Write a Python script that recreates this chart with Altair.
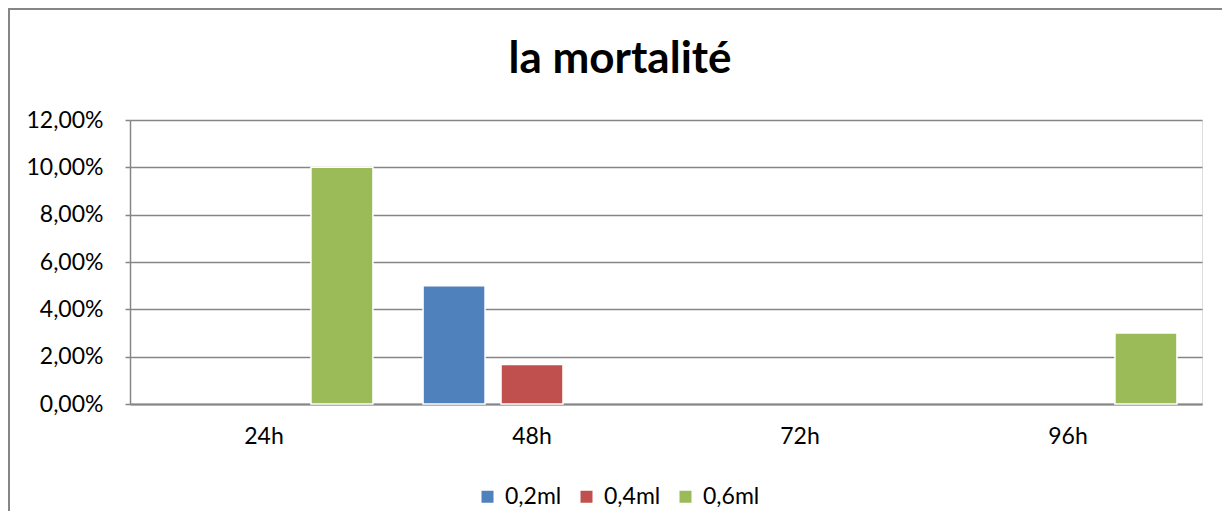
import altair as alt
import pandas as pd

times = ["24h", "48h", "72h", "96h"]
series = ["0,2ml", "0,4ml", "0,6ml"]
colors = ["#4F81BD", "#C0504D", "#9BBB59"]
v_02 = [0.0, 0.05, 0.0, 0.0]
v_04 = [0.0, 0.0167, 0.0, 0.0]
v_06 = [0.10, 0.0, 0.0, 0.03]
y_ticks = [0, 0.02, 0.04, 0.06, 0.08, 0.10, 0.12]

rows = []
for s, vals in zip(series, [v_02, v_04, v_06]):
    for t, v in zip(times, vals):
        rows.append({"temps": t, "dose": s, "value": v})
df = pd.DataFrame(rows)

FONT = "Lato"
W, H = 1072, 284
GRAY = "#868686"

bars = alt.Chart(df).transform_filter("datum.value > 0").mark_bar(
    stroke="white", strokeWidth=1.5
).encode(
    x=alt.X("temps:N", sort=times,
            scale=alt.Scale(domain=times, paddingInner=0.187, paddingOuter=0.0935),
            axis=alt.Axis(title=None, labelAngle=0, labelFont=FONT, labelFontSize=23,
                          labelColor="#000000", labelPadding=21, ticks=False,
                          domainColor=GRAY, domainWidth=2, grid=False)),
    xOffset=alt.XOffset("dose:N", sort=series,
                        scale=alt.Scale(domain=series, paddingInner=0.205, paddingOuter=0)),
    y=alt.Y("value:Q",
            scale=alt.Scale(domain=[0, 0.12], nice=False),
            axis=alt.Axis(title=None, values=y_ticks,
                          labelExpr="replace(format(datum.value, '.2%'), '.', ',')",
                          labelFont=FONT, labelFontSize=23, labelColor="#000000",
                          labelPadding=22, tickSize=5, tickColor=GRAY, tickWidth=1.5,
                          domainColor=GRAY, domainWidth=1.5,
                          grid=True, gridColor=GRAY, gridWidth=1.5)),
    color=alt.Color("dose:N", sort=series,
                    scale=alt.Scale(domain=series, range=colors),
                    legend=alt.Legend(title=None, orient="none", direction="horizontal",
                                      legendX=346, legendY=365,
                                      symbolType="square", symbolSize=144,
                                      symbolStrokeWidth=0,
                                      labelFont=FONT, labelFontSize=23,
                                      labelColor="#000000", columnPadding=13,
                                      labelOffset=6)),
)

frame = alt.Chart(pd.DataFrame({"a": [0]})).mark_rect(
    filled=False, stroke=GRAY, strokeWidth=2, clip=False
).encode(
    x=alt.value(-121), x2=alt.value(W + 200),
    y=alt.value(-111), y2=alt.value(H + 300),
)

chart = alt.layer(frame, bars).properties(
    width=W, height=H,
    title=alt.TitleParams("la mortalité", font=FONT, fontSize=44, fontWeight="bold",
                          color="#000000", anchor="middle", dx=-46, offset=-118,
                          baseline="bottom"),
    padding={"left": 122, "top": 112, "right": 20, "bottom": 107},
    autosize=alt.AutoSizeParams(type="none"),
).configure_view(stroke=None).configure(background="white")

chart.save("out.html", embed_options={"renderer": "svg", "actions": False})
